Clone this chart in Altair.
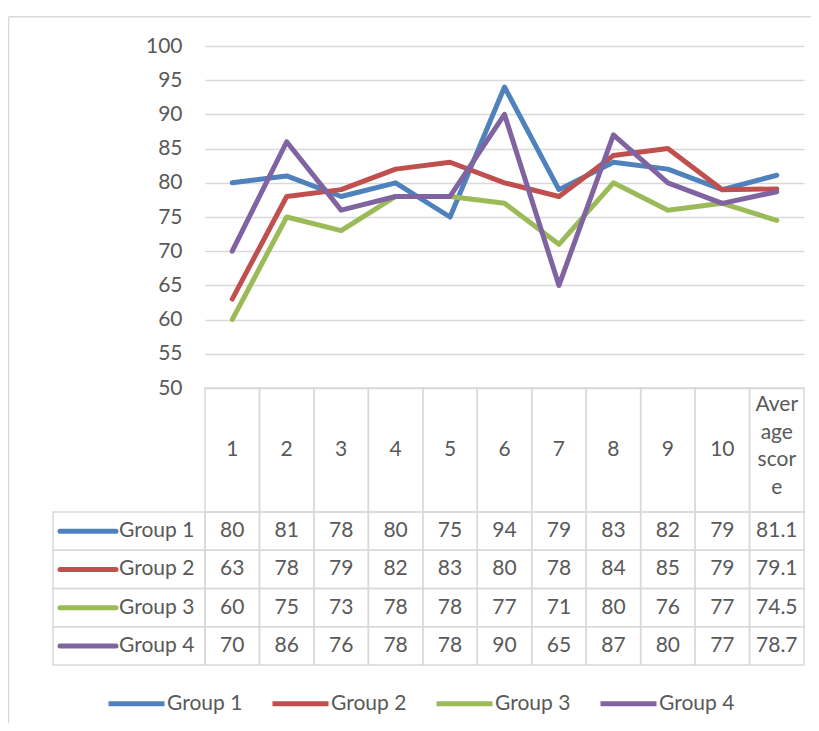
import altair as alt
import pandas as pd

# ---- data ----
categories = ["1", "2", "3", "4", "5", "6", "7", "8", "9", "10", "Average score"]
groups = ["Group 1", "Group 2", "Group 3", "Group 4"]
group1 = [80, 81, 78, 80, 75, 94, 79, 83, 82, 79, 81.1]
group2 = [63, 78, 79, 82, 83, 80, 78, 84, 85, 79, 79.1]
group3 = [60, 75, 73, 78, 78, 77, 71, 80, 76, 77, 74.5]
group4 = [70, 86, 76, 78, 78, 90, 65, 87, 80, 77, 78.7]
colors = ["#4F81BD", "#C0504D", "#9BBB59", "#8064A2"]
y_ticks = list(range(50, 101, 5))

series = [group1, group2, group3, group4]

# ---- layout (pixels) ----
W = 599
H_LINES = 342
H_HEAD = 124
BODY_TOP = H_LINES + H_HEAD
BODY_BOTTOM = 619
FONT = "Lato"
FS = 21
TXT = "#595959"
GRID = "#d9d9d9"
LH = 27.5


def fmt(v):
    return str(v)


def wrap4(s):
    if len(s) <= 4:
        return s
    return "\n".join(s[i:i + 4].strip() for i in range(0, len(s), 4))


long_rows = []
for g, vals in zip(groups, series):
    for c, v in zip(categories, vals):
        long_rows.append({"cat": c, "group": g, "value": v, "label": fmt(v)})
df = pd.DataFrame(long_rows)
head_df = pd.DataFrame({"cat": categories, "head": [wrap4(c) for c in categories]})
head_df["multi"] = head_df["head"].str.contains("\n")
grp_df = pd.DataFrame({"group": groups})
one = pd.DataFrame({"k": [0]})

x_enc = alt.X("cat:N", sort=categories,
              scale=alt.Scale(type="band", domain=categories, paddingInner=0, paddingOuter=0),
              axis=None)
row_enc = alt.Y("group:N", sort=groups,
                scale=alt.Scale(type="band", domain=groups, range=[BODY_TOP, BODY_BOTTOM],
                                paddingInner=0, paddingOuter=0),
                axis=None)
legend = alt.Legend(orient="none", legendX=-99, legendY=627, direction="horizontal",
                    title=None, symbolType="stroke", symbolSize=3136, symbolStrokeWidth=5,
                    labelFont=FONT, labelFontSize=FS, labelColor=TXT, labelOffset=0,
                    columnPadding=19, padding=0)
color_enc = alt.Color("group:N", scale=alt.Scale(domain=groups, range=colors), legend=legend)

lines = alt.Chart(df).mark_line(strokeWidth=5, strokeCap="round", strokeJoin="round").encode(
    x=x_enc,
    y=alt.Y("value:Q", scale=alt.Scale(domain=[50, 100], range=[H_LINES, 0], nice=False, zero=False),
            axis=alt.Axis(values=y_ticks, title=None, domain=False, ticks=False, labelPadding=23,
                          labelFont=FONT, labelFontSize=FS, labelColor=TXT, format="d",
                          grid=True, gridColor=GRID, gridWidth=1.3)),
    color=color_enc,
)

head_rect = alt.Chart(head_df).mark_rect(filled=False, stroke=GRID, strokeWidth=1.5).encode(
    x=x_enc, y=alt.value(H_LINES), y2=alt.value(BODY_TOP))
head_text_single = alt.Chart(head_df).transform_filter("!datum.multi").mark_text(
    font=FONT, fontSize=FS, color=TXT, baseline="middle", align="center").encode(
    x=x_enc, y=alt.value(H_LINES + H_HEAD / 2), text="head:N")
head_text_multi = alt.Chart(head_df).transform_filter("datum.multi").mark_text(
    font=FONT, fontSize=FS, color=TXT, lineBreak="\n", lineHeight=LH,
    baseline="middle", align="center", dy=-45).encode(
    x=x_enc, y=alt.value(H_LINES + H_HEAD / 2), text="head:N")

body_rect = alt.Chart(df).mark_rect(filled=False, stroke=GRID, strokeWidth=1.5).encode(
    x=x_enc, y=row_enc)
body_text = alt.Chart(df).mark_text(font=FONT, fontSize=FS, color=TXT, baseline="middle",
                                    align="center").encode(
    x=x_enc, y=row_enc, text="label:N")

lab_rect = alt.Chart(grp_df).mark_rect(filled=False, stroke=GRID, strokeWidth=1.5).encode(
    x=alt.value(-152), x2=alt.value(0), y=row_enc)
lab_line = alt.Chart(grp_df).mark_rule(strokeWidth=5, strokeCap="round").encode(
    x=alt.value(-145), x2=alt.value(-89), y=row_enc, color=color_enc)
lab_text = alt.Chart(grp_df).mark_text(font=FONT, fontSize=FS, color=TXT, baseline="middle",
                                       align="left").encode(
    x=alt.value(-86), y=row_enc, text="group:N")

frame_left = alt.Chart(one).mark_rule(color=GRID, strokeWidth=1.5).encode(
    x=alt.value(-196.5), y=alt.value(-29.3), y2=alt.value(BODY_BOTTOM + 58))
frame_top = alt.Chart(one).mark_rule(color=GRID, strokeWidth=1.5).encode(
    x=alt.value(-196.5), x2=alt.value(W + 7), y=alt.value(-29.3))

chart = alt.layer(
    frame_left, frame_top,
    head_rect, body_rect, lab_rect,
    head_text_single, head_text_multi, body_text, lab_text,
    lab_line, lines,
).resolve_scale(y="independent").properties(
    width=W, height=BODY_BOTTOM,
    autosize=alt.AutoSizeParams(type="none"),
    padding={"left": 197, "top": 38, "right": 7, "bottom": 58},
    background="white",
).configure_view(stroke=None)

chart.save("out.html", embed_options={"renderer": "svg", "actions": False})
